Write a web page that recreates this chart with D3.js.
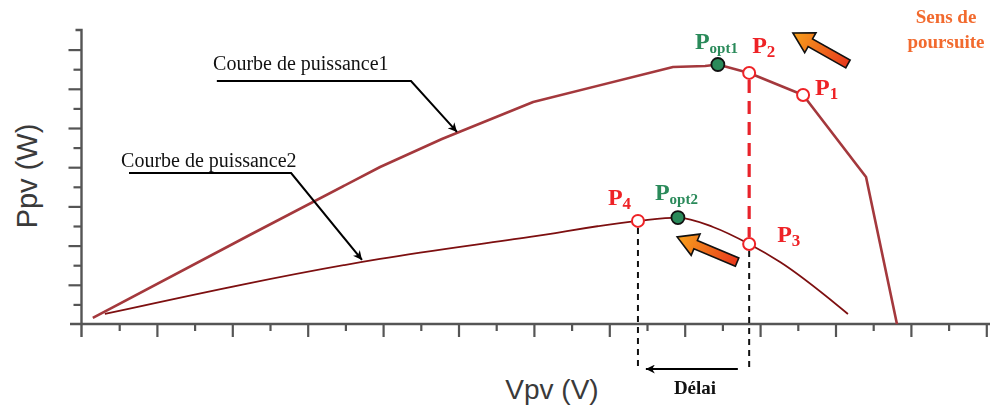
<!DOCTYPE html>
<html><head><meta charset="utf-8">
<script src="https://cdn.jsdelivr.net/npm/d3@7"></script>
<style>body{margin:0;background:#fff} svg{display:block}</style>
</head><body>
<svg id="c" width="990" height="409"></svg>
<script>
// ---- data (units: V along x, W along y) ----
const curve1 = [[0.30,0.31],[4.50,4.58],[7.92,8.01],[9.56,9.44],[11.98,11.33],[15.69,13.11],[16.54,13.16],[16.88,13.24],[17.71,12.81],[19.14,11.68],[20.81,7.50],[21.63,0]];
const curve2 = [[0.62,0.51],[7.92,3.32],[11.90,4.44],[14.76,5.26],[15.82,5.43],[16.75,4.95],[17.71,4.08],[18.53,3.16],[20.33,0.51]];
const redPoints = [
  {name:"P", sub:"1", x:19.14, y:11.68, dx:12, dy:0},
  {name:"P", sub:"2", x:17.71, y:12.81, dx:3, dy:-20},
  {name:"P", sub:"3", x:17.71, y:4.08, dx:28, dy:-2},
  {name:"P", sub:"4", x:14.76, y:5.26, dx:-30, dy:-16}
];
const optPoints = [
  {name:"P", sub:"opt1", x:16.88, y:13.24, dx:-23, dy:-15},
  {name:"P", sub:"opt2", x:15.82, y:5.43, dx:-23, dy:-18}
];
const curveLabels = [
  {text:"Courbe de puissance1", tx:3.49, ty:12.96, line:[[3.59,12.40],[8.74,12.40],[9.96,9.80]]},
  {text:"Courbe de puissance2", tx:1.05, ty:8.01, line:[[1.26,7.70],[5.56,7.70],[7.44,3.27]]}
];
const trackArrows = [
  {tip:[18.87,14.85], tail:[20.33,13.27]},
  {tip:[15.80,4.44], tail:[17.39,3.16]}
];
const xTicks = d3.range(1, 25);
const yTicks = d3.range(1, 15);

// ---- scales ----
const x = d3.scaleLinear().domain([0, 24]).range([81.5, 81.5 + 24*37.7]);
const y = d3.scaleLinear().domain([0, 15]).range([324, 30]);

const svg = d3.select("#c");
const defs = svg.append("defs");
defs.append("filter").attr("id","soft").append("feGaussianBlur").attr("stdDeviation",0.45);
defs.append("marker").attr("id","ah").attr("viewBox","0 0 10 10").attr("refX",10).attr("refY",5)
  .attr("markerWidth",11).attr("markerHeight",9).attr("markerUnits","userSpaceOnUse").attr("orient","auto")
  .append("path").attr("d","M0,0 L10,5 L0,10 L3,5 Z").attr("fill","#000");
const grad = defs.append("linearGradient").attr("id","og").attr("x1","0").attr("y1","0").attr("x2","1").attr("y2","0");
grad.append("stop").attr("offset","0%").attr("stop-color","#e8391d");
grad.append("stop").attr("offset","100%").attr("stop-color","#f7a11c");

const axisCol = "#555";
// ---- axes ----
const ax = svg.append("g").attr("filter","url(#soft)");
const xMajor = d3.axisBottom(x).tickValues(xTicks.filter(d=>d%2===0)).tickSize(13).tickFormat("");
const xMinor = d3.axisBottom(x).tickValues(xTicks.filter(d=>d%2===1)).tickSize(7).tickFormat("");
const yMajor = d3.axisLeft(y).tickValues(yTicks.filter(d=>d%2===0)).tickSize(13).tickFormat("");
const yMinor = d3.axisLeft(y).tickValues(yTicks.filter(d=>d%2===1)).tickSize(8).tickFormat("");
[xMajor,xMinor].forEach(a=>{
  const g = ax.append("g").attr("transform",`translate(0,${y(0)})`).call(a);
  g.select(".domain").remove();
  g.selectAll("line").attr("stroke",axisCol).attr("stroke-width",2.2);
});
[yMajor,yMinor].forEach(a=>{
  const g = ax.append("g").attr("transform",`translate(${x(0)},0)`).call(a);
  g.select(".domain").remove();
  g.selectAll("line").attr("stroke",axisCol).attr("stroke-width",2.2);
});
ax.append("line").attr("x1",70).attr("x2",990).attr("y1",y(0)).attr("y2",y(0)).attr("stroke",axisCol).attr("stroke-width",2.4);
ax.append("path").attr("d",`M${x(0)-6},${y(15)} H${x(0)} V${y(0)+13}`).attr("fill","none").attr("stroke",axisCol).attr("stroke-width",2.4);

// axis titles
svg.append("text").attr("x",552).attr("y",399).attr("text-anchor","middle")
  .attr("font-family","'Liberation Sans',Arial,sans-serif").attr("font-size",28).attr("fill","#3a3a3a").text("Vpv (V)");
svg.append("text").attr("transform","translate(37,176) rotate(-90)").attr("text-anchor","middle")
  .attr("font-family","'Liberation Sans',Arial,sans-serif").attr("font-size",29).attr("fill","#3a3a3a").text("Ppv (W)");

// ---- curves ----
const line1 = d3.line().x(d=>x(d[0])).y(d=>y(d[1]));
const line2 = d3.line().x(d=>x(d[0])).y(d=>y(d[1])).curve(d3.curveMonotoneX);
svg.append("path").datum(curve1).attr("d",line1).attr("fill","none").attr("stroke","#a4393c")
  .attr("stroke-width",2.6).attr("stroke-linejoin","round").attr("filter","url(#soft)");
svg.append("path").datum(curve2).attr("d",line2).attr("fill","none").attr("stroke","#7d0f10").attr("stroke-width",1.8);

// ---- curve labels with leader arrows ----
const serif = "'Liberation Serif','Times New Roman',serif";
curveLabels.forEach(l=>{
  svg.append("text").attr("x",x(l.tx)).attr("y",y(l.ty)).attr("font-family",serif).attr("font-size",20).attr("fill","#111").text(l.text);
  svg.append("path").attr("d",d3.line().x(d=>x(d[0])).y(d=>y(d[1]))(l.line)).attr("fill","none")
    .attr("stroke","#000").attr("stroke-width",2).attr("marker-end","url(#ah)");
});

// ---- dashed guides ----
const P2 = redPoints[1], P3 = redPoints[2], P4 = redPoints[3];
svg.append("line").attr("x1",x(P2.x)).attr("x2",x(P3.x)).attr("y1",y(P2.y)+7).attr("y2",y(P3.y)-7)
  .attr("stroke","#e8232b").attr("stroke-width",3.2).attr("stroke-dasharray","13,8");
svg.append("line").attr("x1",x(P4.x)).attr("x2",x(P4.x)).attr("y1",y(P4.y)+7).attr("y2",y(-2.35))
  .attr("stroke","#111").attr("stroke-width",2).attr("stroke-dasharray","6,5");
svg.append("line").attr("x1",x(P3.x)).attr("x2",x(P3.x)).attr("y1",y(P3.y)+7).attr("y2",y(-2.45))
  .attr("stroke","#111").attr("stroke-width",2).attr("stroke-dasharray","6,5");
svg.append("line").attr("x1",x(17.41)).attr("x2",x(14.97)).attr("y1",y(-2.30)).attr("y2",y(-2.30))
  .attr("stroke","#000").attr("stroke-width",2).attr("marker-end","url(#ah)");
svg.append("text").attr("x",695).attr("y",394).attr("text-anchor","middle").attr("font-family",serif)
  .attr("font-weight","bold").attr("font-size",19).attr("fill","#111").text("Délai");

// ---- tracking arrows ----
trackArrows.forEach(a=>{
  const T=[x(a.tip[0]),y(a.tip[1])], S=[x(a.tail[0]),y(a.tail[1])];
  const len=Math.hypot(T[0]-S[0],T[1]-S[1]);
  const ang=Math.atan2(T[1]-S[1],T[0]-S[0])*180/Math.PI;
  const w=4.5, hw=11.5, hl=20;
  const pts=[[0,-w],[len-hl,-w],[len-hl,-hw],[len,0],[len-hl,hw],[len-hl,w],[0,w]];
  svg.append("path").attr("transform",`translate(${S[0]},${S[1]}) rotate(${ang})`)
    .attr("d","M"+pts.map(p=>p.join(",")).join("L")+"Z").attr("fill","url(#og)")
    .attr("stroke","#111").attr("stroke-width",1.6).attr("stroke-linejoin","miter");
});
svg.append("text").attr("text-anchor","middle").attr("font-family",serif).attr("font-weight","bold")
  .attr("font-size",19).attr("fill","#f26a2e")
  .selectAll("tspan").data(["Sens de","poursuite"]).join("tspan").attr("x",946).attr("y",(d,i)=>23+i*25).text(d=>d);

// ---- points ----
function label(p, col){
  const t = svg.append("text").attr("x",x(p.x)+p.dx).attr("y",y(p.y)+p.dy).attr("font-family",serif)
    .attr("font-weight","bold").attr("fill",col);
  t.append("tspan").attr("font-size",24).text(p.name);
  t.append("tspan").attr("font-size",p.sub.length>1?15:17).attr("dy",4).text(p.sub);
}
svg.selectAll("circle.red").data(redPoints).join("circle").attr("class","red")
  .attr("cx",d=>x(d.x)).attr("cy",d=>y(d.y)).attr("r",6).attr("fill","#fff").attr("stroke","#ee2226").attr("stroke-width",2);
svg.selectAll("circle.opt").data(optPoints).join("circle").attr("class","opt")
  .attr("cx",d=>x(d.x)).attr("cy",d=>y(d.y)).attr("r",6.5).attr("fill","#2a8a5a").attr("stroke","#111").attr("stroke-width",1.8);
redPoints.forEach(p=>label(p,"#ee2226"));
optPoints.forEach(p=>label(p,"#2a8a5a"));
</script>
</body></html>
